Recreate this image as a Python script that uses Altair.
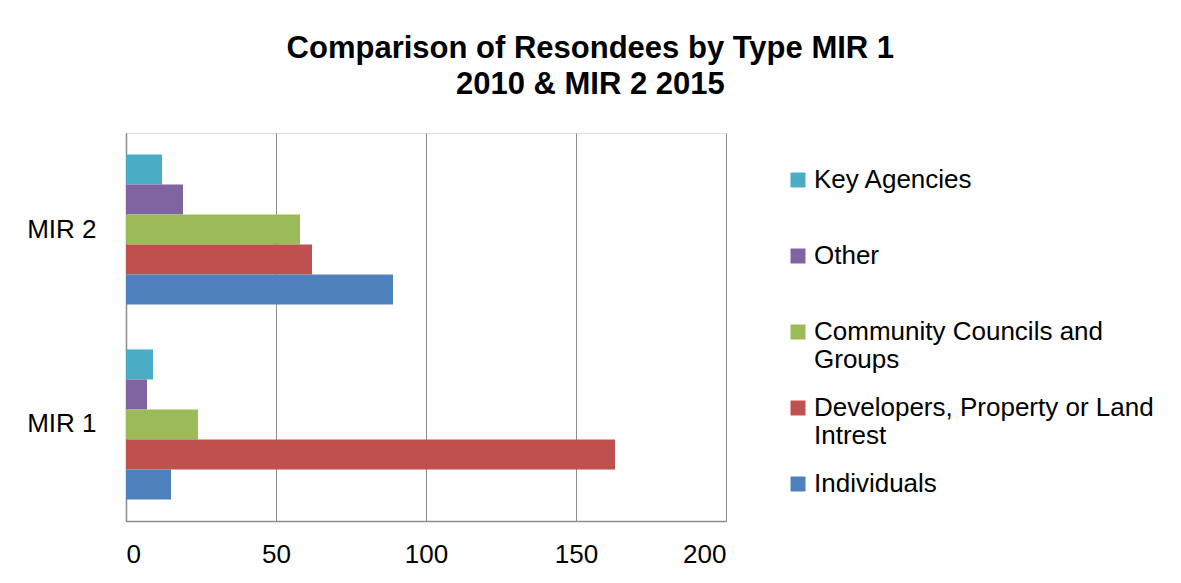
import altair as alt
import pandas as pd

groups = ["MIR 2", "MIR 1"]
types = [
    "Key Agencies",
    "Other",
    "Community Councils and Groups",
    "Developers, Property or Land Intrest",
    "Individuals",
]
mir1 = [9, 7, 24, 163, 15]
mir2 = [12, 19, 58, 62, 89]
colors = ["#4BACC6", "#8064A2", "#9BBB59", "#C0504D", "#4F81BD"]
x_ticks = [0, 50, 100, 150, 200]

rows = []
for t, v in zip(types, mir2):
    rows.append({"group": "MIR 2", "type": t, "value": v})
for t, v in zip(types, mir1):
    rows.append({"group": "MIR 1", "type": t, "value": v})
df = pd.DataFrame(rows)

FONT = "Liberation Sans"

label_expr = (
    "datum.label == 'Community Councils and Groups' ? ['Community Councils and', 'Groups'] : "
    "datum.label == 'Developers, Property or Land Intrest' ? ['Developers, Property or Land', 'Intrest'] : "
    "datum.label"
)

chart = (
    alt.Chart(df)
    .mark_bar()
    .encode(
        y=alt.Y(
            "group:N",
            sort=groups,
            scale=alt.Scale(paddingInner=0.23, paddingOuter=0.11),
            axis=alt.Axis(
                title=None,
                ticks=False,
                domain=True,
                domainColor="#8c8c8c",
                domainWidth=1.5,
                labelFont=FONT,
                labelFontSize=26,
                labelColor="#000000",
                labelPadding=30,
            ),
        ),
        yOffset=alt.YOffset("type:N", sort=types, scale=alt.Scale(domain=types, paddingInner=0, paddingOuter=0)),
        x=alt.X(
            "value:Q",
            scale=alt.Scale(domain=[0, 200], nice=False),
            axis=alt.Axis(
                title=None,
                values=x_ticks,
                ticks=False,
                domain=True,
                domainColor="#8c8c8c",
                domainWidth=1.5,
                grid=True,
                gridColor="#8c8c8c",
                gridWidth=1,
                labelFont=FONT,
                labelFontSize=26,
                labelColor="#000000",
                labelPadding=20,
            ),
        ),
        color=alt.Color(
            "type:N",
            scale=alt.Scale(domain=types, range=colors),
            legend=alt.Legend(
                title=None,
                orient="none",
                legendX=659,
                legendY=34,
                symbolType="square",
                symbolSize=225,
                symbolStrokeWidth=0,
                symbolOpacity=1,
                labelFont=FONT,
                labelFontSize=26,
                labelColor="#000000",
                labelOffset=3,
                labelLimit=500,
                labelExpr=label_expr,
                gridAlign="all",
                rowPadding=22,
                padding=0,
            ),
        ),
    )
    .properties(
        width=600,
        height=388,
        padding={"left": 18, "top": 25, "right": 5, "bottom": 5},
        title=alt.TitleParams(
            text=["Comparison of Resondees by Type  MIR 1", "2010 & MIR 2 2015"],
            font=FONT,
            fontSize=31,
            fontWeight="bold",
            color="#000000",
            anchor="middle",
            frame="bounds",
            lineHeight=36,
            offset=32,
        ),
    )
    .configure_view(stroke=None)
    .configure(background="#ffffff")
)

chart.save("out.html", embed_options={"renderer": "svg", "actions": False})
